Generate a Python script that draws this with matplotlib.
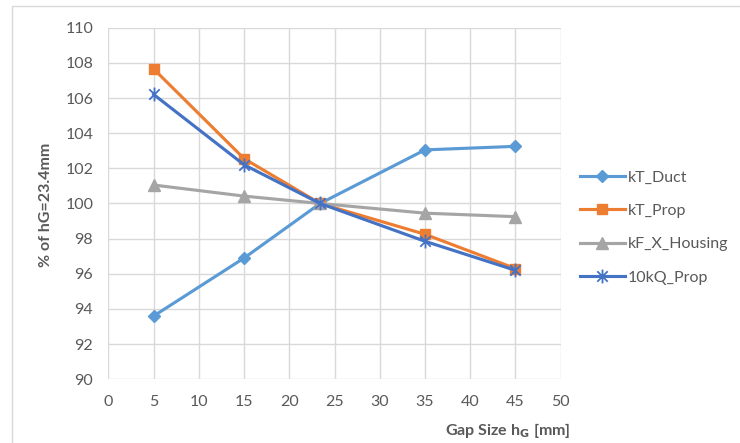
import matplotlib
matplotlib.use('Agg')
import matplotlib.pyplot as plt
from matplotlib.path import Path
from matplotlib.patches import Rectangle

# Data
gap_mm = [5, 15, 23.4, 35, 45]
kT_duct = [93.6, 96.9, 100.0, 103.05, 103.25]
kT_prop = [107.65, 102.55, 100.0, 98.25, 96.3]
kF_x_housing = [101.05, 100.42, 100.0, 99.45, 99.25]
kQ_prop_10 = [106.2, 102.2, 100.0, 97.85, 96.2]

series_names = ['kT_Duct', 'kT_Prop', 'kF_X_Housing', '10kQ_Prop']
series_colors = ['#5B9BD5', '#ED7D31', '#A5A5A5', '#4472C4']

x_ticks = list(range(0, 51, 5))
y_ticks = list(range(90, 111, 2))

plt.rcParams['font.family'] = ['Lato', 'DejaVu Sans']

# Excel style asterisk marker (x plus vertical bar)
star = Path([(0, -1), (0, 1), (-0.75, -0.75), (0.75, 0.75), (-0.75, 0.75), (0.75, -0.75)],
            [Path.MOVETO, Path.LINETO, Path.MOVETO, Path.LINETO, Path.MOVETO, Path.LINETO])


def main():
    fig = plt.figure(figsize=(7.4, 4.43), dpi=100)
    ax = fig.add_axes([0.1466, 0.1438, 0.611, 0.7937])

    # outer chart border
    fig.patches.append(Rectangle((12 / 740, -0.05), 1.1, 1 - 6 / 443 + 0.05,
                                 transform=fig.transFigure, fill=False,
                                 edgecolor='#d9d9d9', linewidth=1))

    markers = [('D', 6.5, 1), ('s', 7, 1), ('^', 8, 1), (star, 10, 1.3)]
    all_vals = [kT_duct, kT_prop, kF_x_housing, kQ_prop_10]
    for vals, name, col, (m, ms, mew) in zip(all_vals, series_names, series_colors, markers):
        ax.plot(gap_mm, vals, color=col, linewidth=2.25, marker=m, markersize=ms,
                markerfacecolor=col, markeredgecolor=col, markeredgewidth=mew,
                label=name, zorder=3)

    ax.set_xlim(0, 50)
    ax.set_ylim(90, 110)
    ax.set_xticks(x_ticks)
    ax.set_yticks(y_ticks)
    ax.grid(True, color='#d9d9d9', linewidth=1)
    ax.set_axisbelow(True)
    for s in ax.spines.values():
        s.set_visible(False)
    ax.tick_params(axis='both', length=0, labelsize=11.5, colors='#595959')
    ax.tick_params(axis='y', pad=11)
    ax.tick_params(axis='x', pad=11)

    fig.text(46 / 740, 1 - 205 / 443, '% of hG=23.4mm', rotation=90, ha='center', va='center',
             fontsize=11.5, fontweight='bold', color='#595959')
    fig.text(570 / 740, 1 - 430 / 443, r'Gap Size h$_\mathbf{G}$ [mm]', ha='right', va='center',
             fontsize=11.5, fontweight='bold', color='#595959')

    fig.legend(loc='center left', bbox_to_anchor=(580 / 740, 1 - 227.5 / 443),
               frameon=False, fontsize=11.5, labelcolor='#595959', handlelength=2.8,
               handletextpad=0.2, labelspacing=1.2, borderpad=0, borderaxespad=0)

    fig.savefig('out.png', dpi=100)


if __name__ == '__main__':
    main()
